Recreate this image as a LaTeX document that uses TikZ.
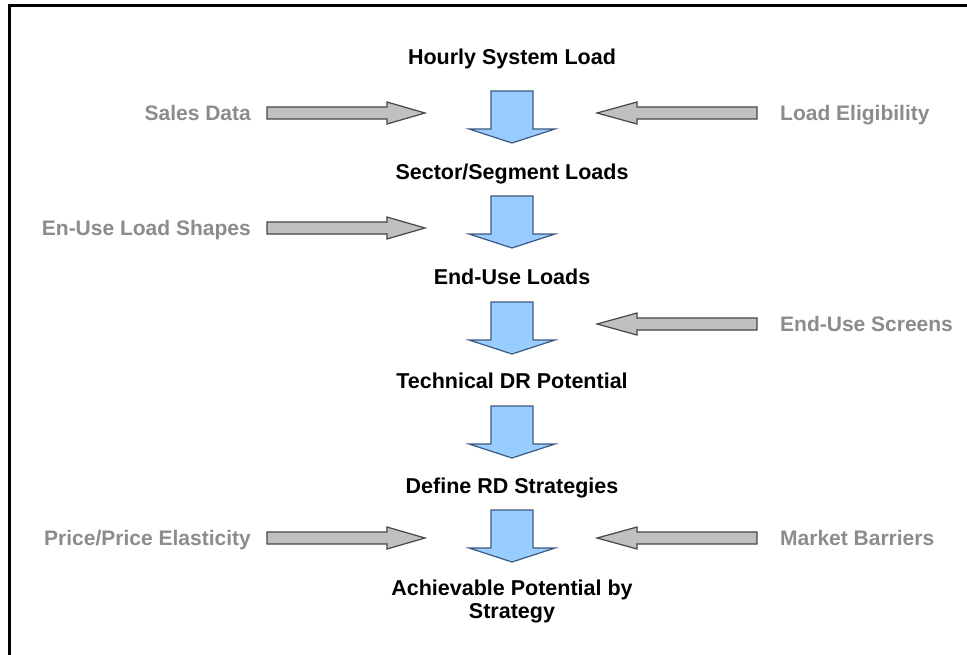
\documentclass[tikz,border=0pt]{standalone}
\usepackage{fontspec}
\setmainfont{Liberation Sans}
\definecolor{labelgray}{RGB}{140,140,140}
\definecolor{arrowblue}{RGB}{153,204,255}
\definecolor{arrowedge}{RGB}{60,90,130}
\definecolor{arrowgray}{RGB}{192,192,192}
\definecolor{arrowgrayedge}{RGB}{70,70,70}
\tikzset{
  stagetext/.style={font=\fontsize{21.5}{23}\selectfont\bfseries, text=black, align=center, inner sep=0pt},
  sidetext/.style={font=\fontsize{21}{23}\selectfont\bfseries, text=labelgray, inner sep=0pt},
  bluearr/.style={fill=arrowblue, draw=arrowedge, line width=1.2pt, line join=miter},
  grayarr/.style={fill=arrowgray, draw=arrowgrayedge, line width=1.2pt, line join=miter},
  pics/downarrow/.style={code={\draw[bluearr] (-21,0)--(21,0)--(21,38)--(43,38)--(0,52)--(-43,38)--(-21,38)--cycle;}},
  pics/rightarrow/.style={code={\draw[grayarr] (0,-6)--(120,-6)--(120,-11)--(158,0)--(120,11)--(120,6)--(0,6)--cycle;}},
  pics/leftarrow/.style={code={\draw[grayarr] (0,-6)--(-120,-6)--(-120,-11)--(-160,0)--(-120,11)--(-120,6)--(0,6)--cycle;}}
}
\begin{document}
\begin{tikzpicture}[x=1pt,y=-1pt]
\useasboundingbox (0,0) rectangle (967,654);
\fill[white] (0,0) rectangle (967,654);
% frame
\draw[line width=3pt] (9,656) -- (9,5) -- (969,5);

% stage texts
\node[stagetext, anchor=base] (hourly) at (512,64) {Hourly System Load};
\node[stagetext, anchor=base] (sector) at (512,179) {Sector/Segment Loads};
\node[stagetext, anchor=base] (enduse) at (512,284) {End-Use Loads};
\node[stagetext, anchor=base] (tech) at (512,388) {Technical DR Potential};
\node[stagetext, anchor=base] (define) at (512,493) {Define RD Strategies};
\node[stagetext, anchor=north] (achiev) at (512,580) {Achievable Potential by\\Strategy};

% blue down arrows
\pic (d1) at (512,91) {downarrow};
\pic (d2) at (512,196) {downarrow};
\pic (d3) at (512,302) {downarrow};
\pic (d4) at (512,406) {downarrow};
\pic (d5) at (512,510) {downarrow};

% side inputs
\node[sidetext, anchor=base east] (sales) at (251,120) {Sales Data};
\pic (r1) at (267,113) {rightarrow};
\node[sidetext, anchor=base west] (elig) at (780,120) {Load Eligibility};
\pic (l1) at (757,113) {leftarrow};

\node[sidetext, anchor=base east] (shapes) at (251,235) {En-Use Load Shapes};
\pic (r2) at (267,228) {rightarrow};

\node[sidetext, anchor=base west] (screens) at (780,331) {End-Use Screens};
\pic (l3) at (757,324) {leftarrow};

\node[sidetext, anchor=base east] (price) at (251,545) {Price/Price Elasticity};
\pic (r4) at (267,538) {rightarrow};
\node[sidetext, anchor=base west] (barriers) at (780,545) {Market Barriers};
\pic (l4) at (757,538) {leftarrow};
\end{tikzpicture}
\end{document}
